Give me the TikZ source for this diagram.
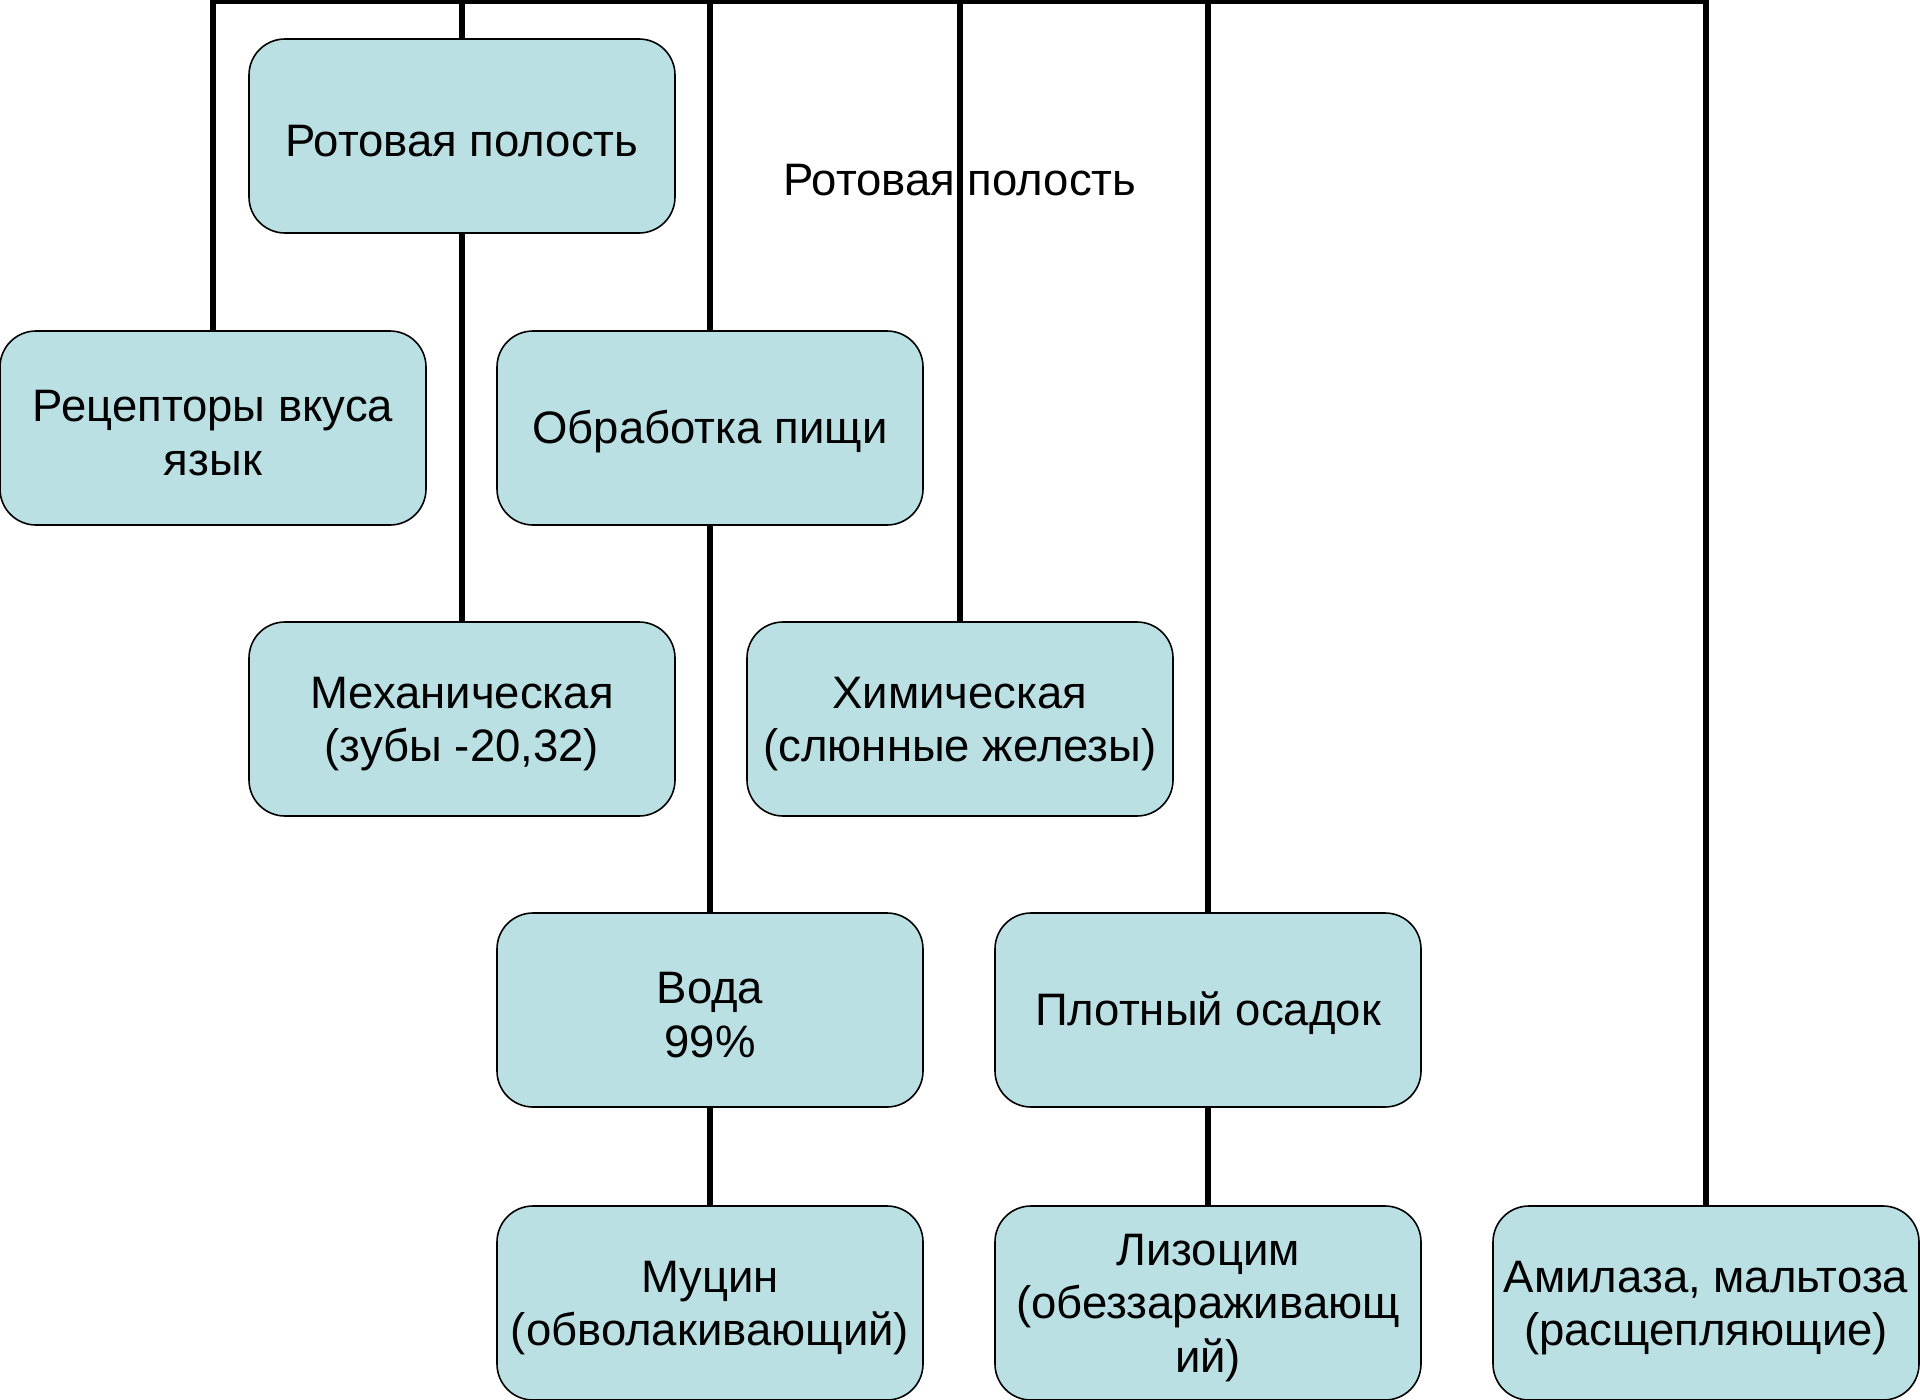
\documentclass[tikz,border=0pt]{standalone}
\usepackage{fontspec}
\setmainfont{Liberation Sans}
\definecolor{boxfill}{RGB}{187,224,227}
\pgfdeclarelayer{background}
\pgfsetlayers{background,main}
\newcommand{\tl}{\rule{0pt}{41pt}}
\begin{document}
\begin{tikzpicture}[x=1pt,y=-1pt,
  box/.style={draw=black, line width=1.6pt, fill=boxfill, rounded corners=36pt,
    minimum width=426pt, minimum height=194pt, inner sep=0pt, align=center,
    font=\fontsize{45.5}{53.5}\selectfont},
  conn/.style={line width=5.5pt, draw=black},
  lbl/.style={font=\fontsize{45.5}{53.5}\selectfont, inner sep=0pt}]
\useasboundingbox (0,0) rectangle (1920,1400);
\node[box] (rot)  at (462,136) {\tl Ротовая полость};
\node[box] (rec)  at (213,428) {\tl Рецепторы вкуса\\язык};
\node[box] (obr)  at (710,428) {\tl Обработка пищи};
\node[box] (mech) at (462,719) {\tl Механическая\\(зубы -20,32)};
\node[box] (him)  at (960,719) {\tl Химическая\\(слюнные железы)};
\node[box] (voda) at (710,1010) {\tl Вода\\99\%};
\node[box] (plot) at (1208,1010) {\tl Плотный осадок};
\node[box] (muc)  at (710,1303) {\tl Муцин\\(обволакивающий)};
\node[box] (liz)  at (1208,1303) {\tl Лизоцим\\(обеззараживающ\\ий)};
\node[box] (ami)  at (1706,1303) {\tl Амилаза, мальтоза\\(расщепляющие)};
\node[lbl] (cap) at (960,180) {Ротовая полость};
\coordinate (t1) at (213,1.5);
\coordinate (t2) at (462,1.5);
\coordinate (t3) at (710,1.5);
\coordinate (t4) at (960,1.5);
\coordinate (t5) at (1208,1.5);
\coordinate (t6) at (1706,1.5);
\begin{pgfonlayer}{background}
\draw[conn, line cap=rect] (t1) -- (t6);
\draw[conn] (t1) -- (rec.north);
\draw[conn] (t2) -- (rot.north);
\draw[conn] (rot.south) -- (mech.north);
\draw[conn] (t3) -- (obr.north);
\draw[conn] (obr.south) -- (voda.north);
\draw[conn] (voda.south) -- (muc.north);
\draw[conn] (t4) -- (him.north);
\draw[conn] (t5) -- (plot.north);
\draw[conn] (plot.south) -- (liz.north);
\draw[conn] (t6) -- (ami.north);
\end{pgfonlayer}
\end{tikzpicture}
\end{document}
